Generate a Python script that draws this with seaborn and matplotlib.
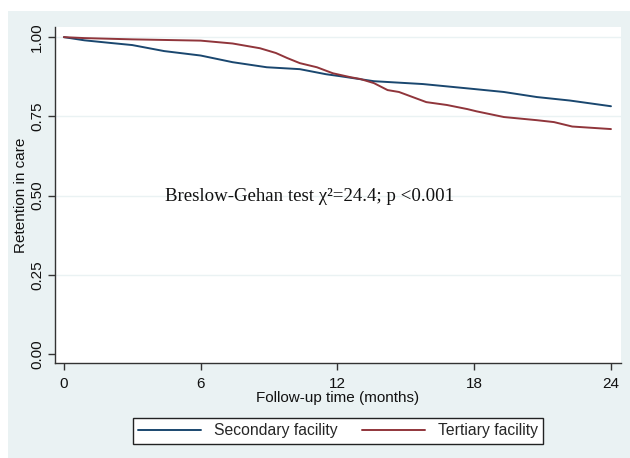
import numpy as np
import pandas as pd
import matplotlib
matplotlib.use("Agg")
import matplotlib.pyplot as plt
from matplotlib.patches import Rectangle
import seaborn as sns

# Kaplan-Meier estimates (months, retention)
sec_months = [0, 0.9, 2.0, 3.0, 4.4, 6.0, 7.4, 8.9, 10.35, 11.5, 12.1, 13.6,
              15.75, 17.9, 19.3, 20.75, 22.2, 24.0]
sec_ret = [1.0, 0.99, 0.982, 0.975, 0.956, 0.942, 0.921, 0.905, 0.899, 0.883,
           0.877, 0.861, 0.852, 0.837, 0.827, 0.811, 0.80, 0.782]

ter_months = [0, 0.9, 3.0, 6.0, 7.4, 8.6, 9.3, 9.8, 10.35, 11.1, 11.8, 12.55,
              13.0, 13.6, 14.2, 14.7, 15.3, 15.9, 16.8, 17.7, 18.1, 18.5, 19.3,
              20.75, 21.5, 22.3, 24.0]
ter_ret = [1.0, 0.997, 0.993, 0.989, 0.98, 0.965, 0.95, 0.934, 0.918, 0.905,
           0.886, 0.874, 0.868, 0.855, 0.833, 0.827, 0.811, 0.795, 0.786, 0.773,
           0.766, 0.76, 0.748, 0.738, 0.732, 0.718, 0.71]

groups = ["Secondary facility", "Tertiary facility"]
colors = ["#1a476f", "#90353b"]

x_ticks = [0, 6, 12, 18, 24]
y_ticks = [0.0, 0.25, 0.50, 0.75, 1.00]

df = pd.concat([
    pd.DataFrame({"time": sec_months, "ret": sec_ret, "group": groups[0]}),
    pd.DataFrame({"time": ter_months, "ret": ter_ret, "group": groups[1]}),
])

sns.set_style("white")
plt.rcParams["font.family"] = ["Liberation Sans", "DejaVu Sans"]

W, H = 630, 458
fig = plt.figure(figsize=(W / 100, H / 100), dpi=100)
fig.patch.set_facecolor("white")
# Stata-like graph region
fig.patches.append(Rectangle((8 / W, 0), 1 - 8 / W, 1 - 11 / H,
                             transform=fig.transFigure, facecolor="#eaf2f3",
                             edgecolor="none", zorder=-5))

ax = fig.add_axes([55 / W, 1 - 363 / H, (621 - 55) / W, (363 - 27) / H])
ax.set_zorder(2)
ax.set_facecolor("white")

sns.lineplot(data=df, x="time", y="ret", hue="group", palette=colors,
             hue_order=groups, linewidth=1.4, ax=ax, legend=False, sort=False)

ax.set_xlim(-0.39, 24.44)
ax.set_ylim(-0.028, 1.032)
ax.set_xticks(x_ticks)
ax.set_xticklabels([str(t) for t in x_ticks])
ax.set_yticks(y_ticks)
ax.set_yticklabels([f"{t:.2f}" for t in y_ticks], rotation=90, va="center")

for yv in y_ticks[1:]:
    ax.axhline(yv, color="#eaf2f3", linewidth=1.0, zorder=0)

for s in ["top", "right"]:
    ax.spines[s].set_visible(False)
for s in ["left", "bottom"]:
    ax.spines[s].set_color("#333333")
    ax.spines[s].set_linewidth(1.0)

ax.tick_params(axis="both", direction="out", length=5, width=1.0,
               color="#333333", labelsize=11, labelcolor="#111111",
               left=True, bottom=True)
ax.tick_params(axis="x", pad=5)
ax.tick_params(axis="y", pad=3)

ax.set_xlabel("Follow-up time (months)", fontsize=11, labelpad=0, color="#111111")
ax.set_ylabel("Retention in care", fontsize=11, labelpad=1, color="#111111")

ax.text(4.45, 0.497, "Breslow-Gehan test \u03c7\u00b2=24.4; p <0.001",
        family=["Liberation Serif", "DejaVu Serif"], fontsize=13.6,
        va="center", ha="left", color="#111111")

handles = [plt.Line2D([], [], color=c, linewidth=1.4) for c in colors]
leg = fig.legend(handles, groups, ncol=2, loc="center",
                 bbox_to_anchor=(338 / W, 1 - 431 / H), frameon=True,
                 fancybox=False, edgecolor="#222222", facecolor="white",
                 fontsize=11.3, handlelength=4.0, columnspacing=1.6,
                 borderpad=0.35, handletextpad=0.8)
leg.get_frame().set_linewidth(1.0)
leg.get_frame().set_alpha(1.0)

fig.savefig("out.png", dpi=100, facecolor=fig.get_facecolor())
